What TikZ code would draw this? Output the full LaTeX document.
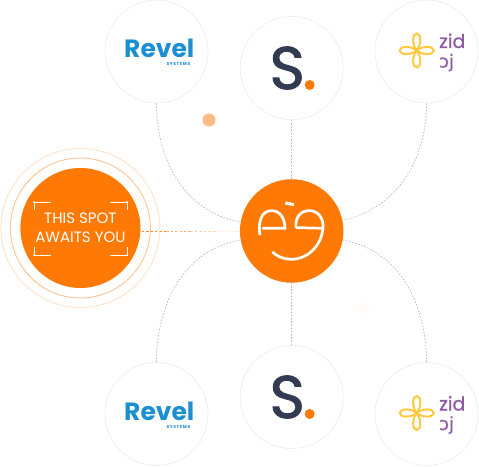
\documentclass[tikz,border=0pt]{standalone}
\usepackage{fontspec}
\setmainfont{Poppins}
\newfontfamily\zidfont{DejaVu Sans}
\usepackage{xcolor}
\usetikzlibrary{positioning}
\usetikzlibrary{calc}
\definecolor{spotorange}{HTML}{FF7A05}
\definecolor{revelblue}{HTML}{1B8FD2}
\definecolor{sdark}{HTML}{333B52}
\definecolor{zidpurple}{HTML}{8E5BA6}
\definecolor{zidyellow}{HTML}{FFC93F}
\tikzset{
  logocircle/.style={circle,draw=black!7,line width=0.7pt,minimum size=103pt,inner sep=0pt},
  spotdisk/.style={circle,fill=spotorange,text=white,minimum size=120pt,inner sep=0pt,align=center,font=\fontsize{15}{19}\selectfont},
  hubdisk/.style={circle,fill=spotorange,minimum size=103.5pt,inner sep=0pt},
  link/.style={dash pattern=on 1.6pt off 1.6pt,black!27,line width=0.7pt},
  smile/.style={white,line width=2.7pt},
  petal/.style={zidyellow,line width=2pt},
  revelword/.style={text=revelblue,font=\fontsize{25}{25}\selectfont\bfseries,inner sep=0pt},
  revelsub/.style={text=revelblue,font=\fontsize{4.4}{4.4}\selectfont\bfseries\addfontfeature{LetterSpace=14},inner sep=0pt},
  sword/.style={text=sdark,font=\fontsize{60}{60}\selectfont\addfontfeature{FakeBold=1.6},inner sep=0pt},
  zidword/.style={text=zidpurple,inner sep=0pt},
}
\begin{document}
\begin{tikzpicture}[x=1pt,y=1pt]
\useasboundingbox (0,0) rectangle (479,466);

\node[hubdisk] (h) at (291.7,235) {};
\node[spotdisk] (s) at (80.4,238) {THIS SPOT\\AWAITS YOU};
\node[logocircle] (a1) at (156.5,414.5) {};
\node[logocircle] (a2) at (291.7,398) {};
\node[logocircle] (a3) at (426.5,414.5) {};
\node[logocircle] (b1) at (156.5,52) {};
\node[logocircle] (b2) at (291.7,69) {};
\node[logocircle] (b3) at (426.5,52) {};

\coordinate (s0) at (142,235);

\draw[spotorange!45,line width=0.9pt] (s) circle (70pt);
\draw[spotorange!22,line width=0.9pt] (s) circle (79.5pt);

\draw[link] (a1.south) to [out=-90, in=170] (h.170);
\draw[link] (a2.south) -- (h.north);
\draw[link] (a3.south) to [out=-90, in=12] (h.12);
\draw[link] (b1.north) to [out=90, in=190] (h.190);
\draw[link] (b2.north) -- (h.south);
\draw[link] (b3.north) to [out=90, in=-10] (h.-10);

\foreach \p/\q/\c in {0/0.25/85,0.25/0.5/60,0.5/0.75/35,0.75/1/15}
\draw[spotorange!\c,dash pattern=on 2.2pt off 2.2pt,line width=0.8pt] ($(s0)!\p!(h.west)$) -- ($(s0)!\q!(h.west)$);

\fill[spotorange!50] (209,346) circle (6.5pt);
\fill[spotorange!3] (364,158) circle (5.5pt);

\foreach \x/\y/\u/\v in {34/264/1/-1,127/264/-1/-1,34/211/1/1,127/211/-1/1}
{
  \draw[white,line width=0.4pt] (\x+17*\u,\y) -- (\x,\y) -- (\x,\y+8*\v);
  \fill[white] (\x,\y) circle (1pt);
}

\begin{scope}[shift={(230,286)},x=0.333pt,y=-0.333pt]
  \draw[smile] (90,166) .. controls (84,130) and (92,92) .. (125,92) .. controls (150,92) and (165,115) .. (165,145) -- (97,145);
  \draw[smile] (198,143) .. controls (195,115) and (210,92) .. (238,92) .. controls (265,92) and (282,115) .. (279,145) -- (198,143);
  \draw[smile] (279,145) .. controls (275,195) and (235,240) .. (180,238) .. controls (158,237) and (140,228) .. (127,216);
  \draw[white,line width=3pt] (166,69) -- (192,74);
\end{scope}

\foreach \i in {a,b}
{
  \node[revelword,anchor=base west] (\i r) at ([shift={(-32.5,-6)}]\i1.center) {Revel};
  \node[revelsub,anchor=base east] (\i q) at ([shift={(34,-14)}]\i1.center) {SYSTEMS};
  \node[sword,anchor=base] (\i s) at ([shift={(-4.5,-21)}]\i2.center) {S};
  \fill[spotorange] ([shift={(18,-17)}]\i2.center) circle (5pt);
  \node[zidword,font=\fontsize{19}{19}\selectfont\addfontfeature{FakeBold=1},anchor=base west] (\i z) at ([shift={(12.5,3.5)}]\i3.center) {zid};
  \node[zidword,font=\zidfont\fontsize{18}{18}\selectfont\addfontfeature{FakeBold=1},anchor=base west] (\i d) at ([shift={(12.5,-16)}]\i3.center) {ɔj};
  \begin{scope}[shift={([shift={(-9.8,1)}]\i3.center)}]
    \foreach \r in {0,90,180,270}
    \draw[petal,rotate=\r] (0,0) .. controls (5,4.5) and (17,5) .. (17,0) .. controls (17,-5) and (5,-4.5) .. (0,0);
  \end{scope}
}
\end{tikzpicture}
\end{document}
